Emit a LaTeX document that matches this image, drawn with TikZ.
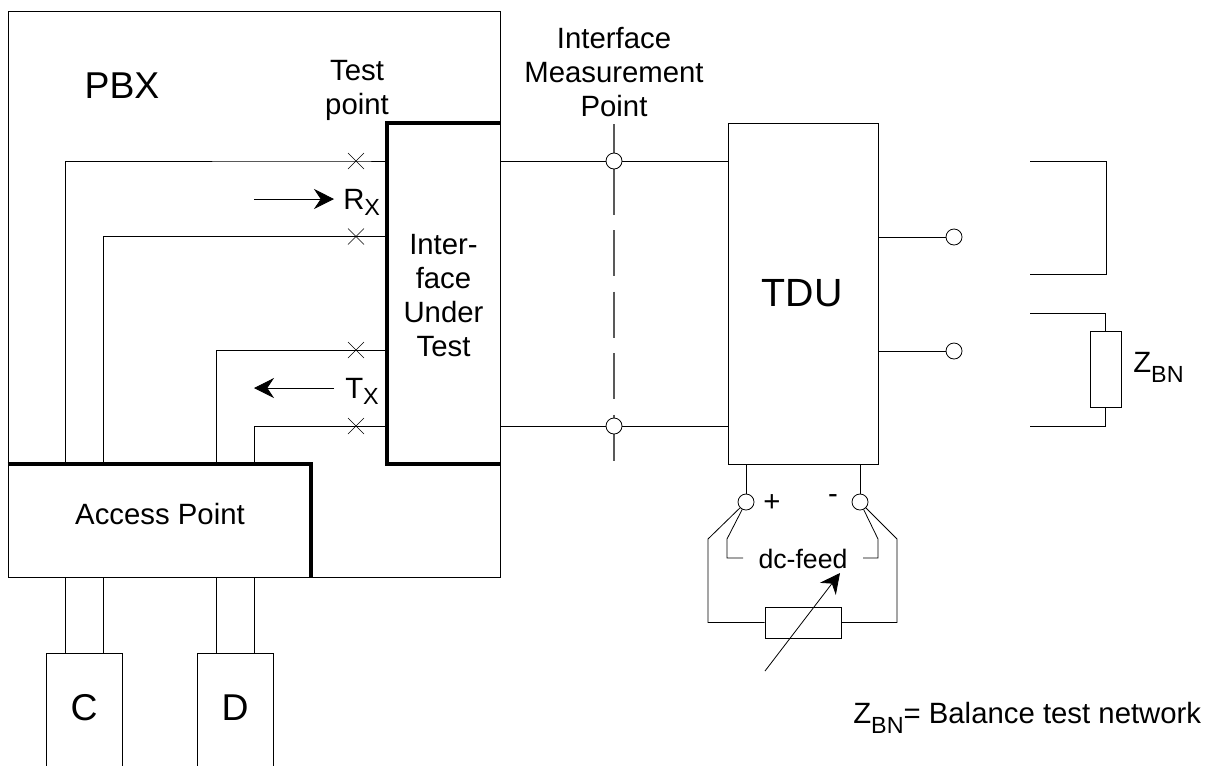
\documentclass[tikz,border=0pt]{standalone}
\usepackage{fontspec}
\setmainfont{Liberation Sans}
\usetikzlibrary{positioning,arrows.meta,calc,shapes.misc}
\newcommand{\lowtext}[2]{\raisebox{-#1}{\fontsize{17.5}{20}\selectfont #2}}

\begin{document}
\begin{tikzpicture}[
  x=0.75pt, y=-0.75pt,
  wire/.style={line width=0.6pt},
  heavy/.style={line width=2.8pt, line join=miter},
  box/.style={draw, line width=0.6pt, inner sep=0pt},
  term/.style={draw, circle, fill=white, line width=0.6pt, inner sep=0pt, minimum size=12pt},
  xmark/.style={draw, cross out, line width=0.5pt, inner sep=0pt, minimum size=11.5pt},
  arrow/.style={-{Stealth[length=15pt, width=15pt, inset=5pt]}, line width=0.6pt},
  lbl/.style={font=\fontsize{22}{25.5}\selectfont, align=center, inner sep=0pt},
  big/.style={font=\fontsize{28}{32}\selectfont, inner sep=0pt},
  sublbl/.style={lbl, anchor=base west}
]
\useasboundingbox (0,0) rectangle (1216,765);

% boxes
\node[box, minimum width=369pt, minimum height=424.5pt] (pbx) at (254,294) {};
\node[minimum width=84.75pt, minimum height=255.4pt, inner sep=0pt] (iut) at (443.5,293.75) {};
\node[minimum width=227.25pt, minimum height=84.75pt, inner sep=0pt] (acc) at (159.5,520.5) {};
\node[box, minimum width=112.5pt, minimum height=255.4pt] (tdu) at (803,293.75) {};
\node[box, minimum width=57pt, minimum height=120pt] (cbox) at (84,733) {};
\node[box, minimum width=57pt, minimum height=120pt] (dbox) at (235.5,733) {};
\node[box, minimum width=57pt, minimum height=23.25pt] (load) at (803,622.5) {};
\node[box, minimum width=23.25pt, minimum height=57pt] (zbn) at (1105.5,369) {};

% heavy outlines
\draw[heavy] (iut.north east) -- (iut.north west) -- (iut.south west) -- (iut.south east);
\draw[heavy] (acc.north west) -- (acc.north east) -- (acc.south east);

% test points
\node[xmark] (xa) at (356,161) {};
\node[xmark] (xb) at (356,236.5) {};
\node[xmark] (xc) at (356,350) {};
\node[xmark] (xd) at (356,426) {};

% wires to the access point
\coordinate (ca) at (65,464);
\coordinate (cb) at (103,464);
\coordinate (dc) at (216.5,464);
\coordinate (dd) at (254.5,464);
\draw[wire] (iut.west |- xa) -- (xa.center) -| (ca);
\draw[wire] (iut.west |- xb) -- (xb.center) -| (cb);
\draw[wire] (iut.west |- xc) -- (xc.center) -| (dc);
\draw[wire] (iut.west |- xd) -- (xd.center) -| (dd);
\draw[wire] (cbox.north -| ca) -- (pbx.south -| ca);
\draw[wire] (cbox.north -| cb) -- (pbx.south -| cb);
\draw[wire] (dbox.north -| dc) -- (pbx.south -| dc);
\draw[wire] (dbox.north -| dd) -- (pbx.south -| dd);

% direction arrows
\coordinate (rxs) at (254,199);
\coordinate (rxe) at (334,199);
\coordinate (txs) at (334,388);
\coordinate (txe) at (254,388);
\draw[arrow] (rxs) -- (rxe);
\draw[arrow] (txs) -- (txe);

% measurement point
\coordinate (mtop) at (614,124);
\coordinate (mbot) at (614,464);
\draw[line width=0.8pt, gray!70!black, dash pattern=on 34.5pt off 11.625pt, dash phase=12.75pt] (mtop) -- (mbot);
\draw[wire] (iut.east |- xa) -- (tdu.west |- xa);
\draw[wire] (iut.east |- xd) -- (tdu.west |- xd);
\node[term] (mpa) at (614,161) {};
\node[term] (mpb) at (614,426) {};

% TDU side terminals
\node[term] (pa) at (954,237) {};
\node[term] (pb) at (954,351) {};
\draw[wire] (tdu.east |- pa) -- (pa);
\draw[wire] (tdu.east |- pb) -- (pb);

% loop and balance network
\coordinate (la) at (1030,161);
\coordinate (lb) at (1106,161);
\coordinate (lc) at (1106,274);
\coordinate (ld) at (1030,274);
\draw[wire] (la) -- (lb) -- (lc) -- (ld);
\coordinate (za) at (1030,313);
\coordinate (zb) at (1030,426);
\draw[wire] (za) -| (zbn.north);
\draw[wire] (zb) -| (zbn.south);

% dc feed
\node[term] (fp) at (746,502) {};
\node[term] (fm) at (860,502) {};
\draw[wire] (tdu.south -| fp) -- (fp);
\draw[wire] (tdu.south -| fm) -- (fm);
\coordinate (ola) at (708,539);
\coordinate (olb) at (708,622.5);
\coordinate (ora) at (897,539);
\coordinate (orb) at (897,622.5);
\coordinate (ila) at (727,539);
\coordinate (ilb) at (727,558);
\coordinate (ilc) at (743,558);
\coordinate (ira) at (878,539);
\coordinate (irb) at (878,558);
\coordinate (irc) at (863,558);
\draw[wire] (fp) -- (ola) -- (olb) -- (load.west);
\draw[wire] (fm) -- (ora) -- (orb) -- (load.east);
\draw[wire] (fp) -- (ila) -- (ilb) -- (ilc);
\draw[wire] (fm) -- (ira) -- (irb) -- (irc);
\coordinate (trs) at (765,671);
\coordinate (tre) at (840,573);
\draw[arrow] (trs) -- (tre);

% labels
\node[big] (pbxl) at (122,86) {PBX};
\node[big, font=\fontsize{29.5}{32}\selectfont] (tdul) at (802,293) {TDU};
\node[lbl] (iutl) at (443.5,296) {Inter-\\face\\Under\\Test};
\node[lbl] (tpl) at (357,90) {Test\\point};
\node[lbl] (impl) at (614,72) {Interface\\Measurement\\Point};
\node[lbl] (accl) at (160,514) {Access Point};
\node[big] (cl) at (84,708) {C};
\node[big] (dl) at (235,708) {D};
\node[sublbl] (rxl) at (343,209) {R\lowtext{4.5pt}{X}};
\node[sublbl] (txl) at (345,398) {T\lowtext{4.5pt}{X}};
\node[sublbl] (zbnl) at (1133,372) {Z\lowtext{7.5pt}{BN}};
\node[lbl, font=\fontsize{20}{24}\selectfont] (dcl) at (803,559) {dc-feed};
\node[lbl] (plusl) at (772,503) {+};
\node[lbl] (minusl) at (833,499) {-};
\node[sublbl] (note) at (853,723) {Z\lowtext{7.5pt}{BN}= Balance test network};

\end{tikzpicture}
\end{document}
